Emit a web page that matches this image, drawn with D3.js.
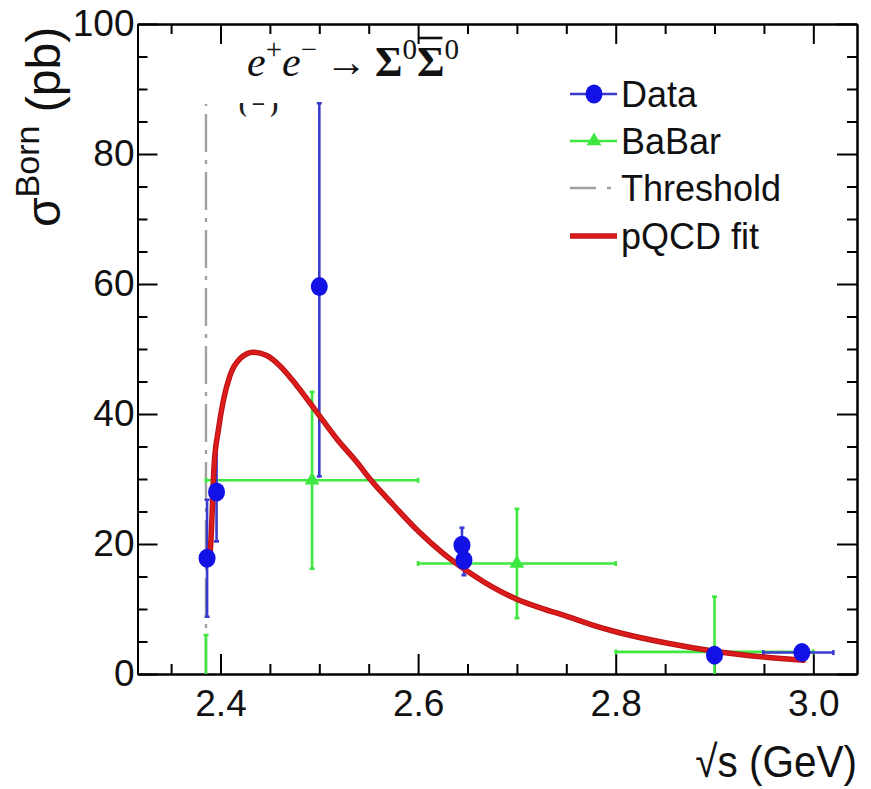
<!DOCTYPE html>
<html>
<head>
<meta charset="utf-8">
<script src="https://cdn.jsdelivr.net/npm/d3@7"></script>
<style>
  html, body { margin: 0; padding: 0; background: #fff; }
  svg { display: block; }
  .axis path, .axis line { stroke: #000; stroke-width: 2; }
  .axis text { font-family: "Liberation Sans", Arial, sans-serif; font-size: 37px; fill: #111; }
</style>
</head>
<body>
<svg id="chart" width="871" height="789"></svg>
<script>
// BESIII measurements (blue circles)
const dataX     = [2.3864, 2.3960, 2.5000, 2.6444, 2.6464, 2.9000, 2.9884];
const dataY     = [17.8, 28.0, 59.6, 19.8, 17.5, 2.9, 3.3];
const dataErrLo = [9.0, 7.6, 29.2, 2.7, 2.3, 1.0, 1.0];
const dataErrHi = [9.0, 7.6, 28.2, 2.7, 2.3, 1.0, 1.0];
const dataXLo   = [2.3864, 2.3960, 2.5000, 2.6444, 2.6464, 2.9000, 2.9494];
const dataXHi   = [2.3864, 2.3960, 2.5000, 2.6444, 2.6464, 2.9000, 3.0203];

// BaBar measurements (green triangles), with energy bins
const babarX   = [2.3853, 2.4927, 2.7000, 2.9000];
const babarXLo = [2.3853, 2.3853, 2.6000, 2.8000];
const babarXHi = [2.3853, 2.6000, 2.8000, 3.0000];
const babarY   = [-2.0, 29.8, 17.0, 3.4];
const babarErr = [8.0, 13.6, 8.4, 8.5];

// Production threshold 2 m(Sigma0)
const thresholdX = 2.3853;
const thresholdTop = 87.7;

// pQCD fit curve samples
const fitX = [2.3893, 2.3905, 2.3935, 2.3978, 2.4028, 2.4096, 2.4197, 2.4332, 2.4468, 2.4602,
              2.4771, 2.4974, 2.5176, 2.5379, 2.5513, 2.5750, 2.6000, 2.6250, 2.6500, 2.6750,
              2.7000, 2.7250, 2.7500, 2.7750, 2.8000, 2.8500, 2.9000, 2.9500, 2.9900];
const fitY = [18.0, 21.0, 32.0, 37.5, 42.0, 45.9, 48.5, 49.5, 49.0, 47.4,
              44.4, 40.3, 36.2, 32.6, 30.0, 26.0, 22.0, 18.6, 15.8, 13.4,
              11.5, 10.1, 8.9, 7.6, 6.5, 4.8, 3.5, 2.6, 2.1];

// Axis ticks
const xMajorTicks = [2.4, 2.6, 2.8, 3.0];
const xMinorTicks = [2.35, 2.45, 2.5, 2.55, 2.65, 2.7, 2.75, 2.85, 2.9, 2.95];
const yMajorTicks = [0, 20, 40, 60, 80, 100];
const yMinorTicks = [5, 10, 15, 25, 30, 35, 45, 50, 55, 65, 70, 75, 85, 90, 95];

// Legend entries
const legendLabels = ["Data", "BaBar", "Threshold", "pQCD fit"];

const colBlue = "#1212e6", colBlueBar = "#3a3ad0", colGreen = "#3ee83e",
      colRed = "#dc1c1c", colGrey = "#a0a0a0";

const svg = d3.select("#chart");
const L = 137.5, R = 857, T = 24, B = 674;

const x = d3.scaleLinear().domain([2.316, 3.0442]).range([L, R]);
const y = d3.scaleLinear().domain([0, 100]).range([B, T]);

// Frame axes: ticks on all four sides, pointing inward
function addAxis(gen, tr, values, size, labels, pad) {
  return svg.append("g").attr("class", "axis").attr("transform", tr)
    .call(gen.tickValues(values).tickSizeInner(size).tickSizeOuter(0).tickPadding(pad || 3)
      .tickFormat(labels ? labels : () => ""));
}
addAxis(d3.axisBottom(x), `translate(0,${B})`, xMajorTicks, -20, d3.format(".1f"), 16);
addAxis(d3.axisBottom(x), `translate(0,${B})`, xMinorTicks, -10);
addAxis(d3.axisTop(x), `translate(0,${T})`, xMajorTicks, -20);
addAxis(d3.axisTop(x), `translate(0,${T})`, xMinorTicks, -10);
addAxis(d3.axisLeft(y), `translate(${L},0)`, yMajorTicks, -20, d3.format("d"), 3);
addAxis(d3.axisLeft(y), `translate(${L},0)`, yMinorTicks, -10);
addAxis(d3.axisRight(y), `translate(${R},0)`, yMajorTicks, -20);
addAxis(d3.axisRight(y), `translate(${R},0)`, yMinorTicks, -10);
svg.selectAll(".axis .domain").attr("stroke-width", 2.2);

// Plot-area clip
svg.append("clipPath").attr("id", "plotclip")
  .append("rect").attr("x", L).attr("y", T).attr("width", R - L).attr("height", B - T);
const plot = svg.append("g").attr("clip-path", "url(#plotclip)");

// Threshold line
plot.append("line")
  .attr("x1", x(thresholdX)).attr("x2", x(thresholdX))
  .attr("y1", y(0)).attr("y2", y(thresholdTop))
  .attr("stroke", colGrey).attr("stroke-width", 2.4)
  .attr("stroke-dasharray", "38,8,4,8");

// Error bars with small end caps
function errorBars(xs, ys, xlo, xhi, elo, ehi, color, w) {
  const g = plot.append("g").attr("stroke", color).attr("stroke-width", w).attr("fill", "none");
  xs.forEach((xv, i) => {
    const cx = x(xv), cy = y(ys[i]);
    const yt = y(ys[i] + ehi[i]), yb = y(ys[i] - elo[i]);
    g.append("line").attr("x1", cx).attr("x2", cx).attr("y1", yt).attr("y2", yb);
    g.append("line").attr("x1", cx - 2.5).attr("x2", cx + 2.5).attr("y1", yt).attr("y2", yt);
    g.append("line").attr("x1", cx - 2.5).attr("x2", cx + 2.5).attr("y1", yb).attr("y2", yb);
    if (xhi[i] - xlo[i] > 1e-6) {
      const xa = x(xlo[i]), xb = x(xhi[i]);
      g.append("line").attr("x1", xa).attr("x2", xb).attr("y1", cy).attr("y2", cy);
      g.append("line").attr("x1", xa).attr("x2", xa).attr("y1", cy - 2.5).attr("y2", cy + 2.5);
      g.append("line").attr("x1", xb).attr("x2", xb).attr("y1", cy - 2.5).attr("y2", cy + 2.5);
    }
  });
}
errorBars(babarX, babarY, babarXLo, babarXHi, babarErr, babarErr, colGreen, 2.6);
errorBars(dataX, dataY, dataXLo, dataXHi, dataErrLo, dataErrHi, colBlueBar, 2.6);

// pQCD fit
const fitLine = d3.line().x(d => x(d[0])).y(d => y(d[1])).curve(d3.curveMonotoneX);
const fitPts = fitX.map((v, i) => [v, fitY[i]]);
plot.append("path").datum(fitPts).attr("d", fitLine)
  .attr("fill", "none").attr("stroke", "#b81010").attr("stroke-width", 5.5)
  .attr("stroke-linecap", "round");
plot.append("path").datum(fitPts).attr("d", fitLine)
  .attr("fill", "none").attr("stroke", colRed).attr("stroke-width", 3.5)
  .attr("stroke-linecap", "round");

// Markers
const tri = d3.symbol().type(d3.symbolTriangle).size(95);
plot.append("g").selectAll("path").data(babarX).join("path")
  .attr("d", tri)
  .attr("transform", (d, i) => `translate(${x(d)},${y(babarY[i])})`)
  .attr("fill", colGreen);
plot.append("g").selectAll("ellipse").data(dataX).join("ellipse")
  .attr("cx", d => x(d)).attr("cy", (d, i) => y(dataY[i]))
  .attr("rx", 8.5).attr("ry", 9.5)
  .attr("fill", colBlue);

// Legend
const lg = svg.append("g");
const rowsY = [94, 141, 188, 236];
const lx1 = 570, lx2 = 617, lmx = 594;
lg.append("line").attr("x1", lx1).attr("x2", lx2).attr("y1", rowsY[0]).attr("y2", rowsY[0])
  .attr("stroke", colBlueBar).attr("stroke-width", 2.6);
lg.append("ellipse").attr("cx", lmx).attr("cy", rowsY[0]).attr("rx", 8.5).attr("ry", 9.5).attr("fill", colBlue);
lg.append("line").attr("x1", lx1).attr("x2", lx2).attr("y1", rowsY[1]).attr("y2", rowsY[1])
  .attr("stroke", colGreen).attr("stroke-width", 2.6);
lg.append("path").attr("d", tri).attr("transform", `translate(${lmx},${rowsY[1]})`).attr("fill", colGreen);
lg.append("line").attr("x1", lx1).attr("x2", lx2).attr("y1", rowsY[2]).attr("y2", rowsY[2])
  .attr("stroke", colGrey).attr("stroke-width", 2.4).attr("stroke-dasharray", "26,11,4,20");
lg.append("line").attr("x1", lx1).attr("x2", lx2).attr("y1", rowsY[3]).attr("y2", rowsY[3])
  .attr("stroke", "#b81010").attr("stroke-width", 5.5);
lg.append("line").attr("x1", lx1).attr("x2", lx2).attr("y1", rowsY[3]).attr("y2", rowsY[3])
  .attr("stroke", colRed).attr("stroke-width", 3.5);
lg.selectAll("text").data(legendLabels).join("text")
  .attr("x", 621).attr("y", (d, i) => rowsY[i] + 13)
  .attr("font-family", "Liberation Sans, Arial, sans-serif").attr("font-size", 36)
  .attr("fill", "#111").text(d => d);

// Process annotation
const ann = svg.append("text").attr("x", 247).attr("y", 76)
  .attr("font-family", "Liberation Serif, 'Times New Roman', serif").attr("font-size", 42).attr("fill", "#111");
ann.append("tspan").attr("font-style", "italic").text("e");
ann.append("tspan").attr("font-size", 29).attr("dy", -17).text("+");
ann.append("tspan").attr("font-style", "italic").attr("dy", 17).text("e");
ann.append("tspan").attr("font-size", 29).attr("dy", -17).text("\u2212");
ann.append("tspan").attr("dy", 17).attr("dx", 8).text("\u2192");
ann.append("tspan").attr("dx", 8).attr("font-weight", "bold").text("\u03A3");
ann.append("tspan").attr("font-size", 29).attr("dy", -17).text("0");
ann.append("tspan").attr("font-weight", "bold").attr("dy", 17).text("\u03A3");
ann.append("tspan").attr("font-size", 29).attr("dy", -17).text("0");
// bar over the antiparticle symbol
const sbar = ann.node().getExtentOfChar(7);
svg.append("line")
  .attr("x1", sbar.x + 2).attr("x2", sbar.x + sbar.width - 2)
  .attr("y1", 38).attr("y2", 38)
  .attr("stroke", "#111").attr("stroke-width", 2.6);

// Partially hidden panel tag below the annotation
svg.append("clipPath").attr("id", "tagclip")
  .append("rect").attr("x", 200).attr("y", 103).attr("width", 120).attr("height", 30);
svg.append("text").attr("clip-path", "url(#tagclip)")
  .attr("x", 261).attr("y", 112).attr("text-anchor", "middle")
  .attr("font-family", "Liberation Serif, serif").attr("font-size", 24).attr("font-weight", "bold")
  .attr("letter-spacing", 5).attr("fill", "#222").text("(\u2212)");

// Axis titles
const yt = svg.append("text")
  .attr("transform", "translate(60,227) rotate(-90)")
  .attr("font-family", "Liberation Sans, Arial, sans-serif").attr("font-size", 48).attr("fill", "#111");
yt.append("tspan").text("\u03C3");
yt.append("tspan").attr("font-size", 34).attr("dy", -21).text("Born");
yt.append("tspan").attr("dy", 21).text(" (pb)");

svg.append("text").attr("transform", "translate(857,777) scale(0.9,1)").attr("text-anchor", "end")
  .attr("font-family", "Liberation Sans, Arial, sans-serif").attr("font-size", 45).attr("fill", "#111")
  .text("\u221As (GeV)");
</script>
</body>
</html>
